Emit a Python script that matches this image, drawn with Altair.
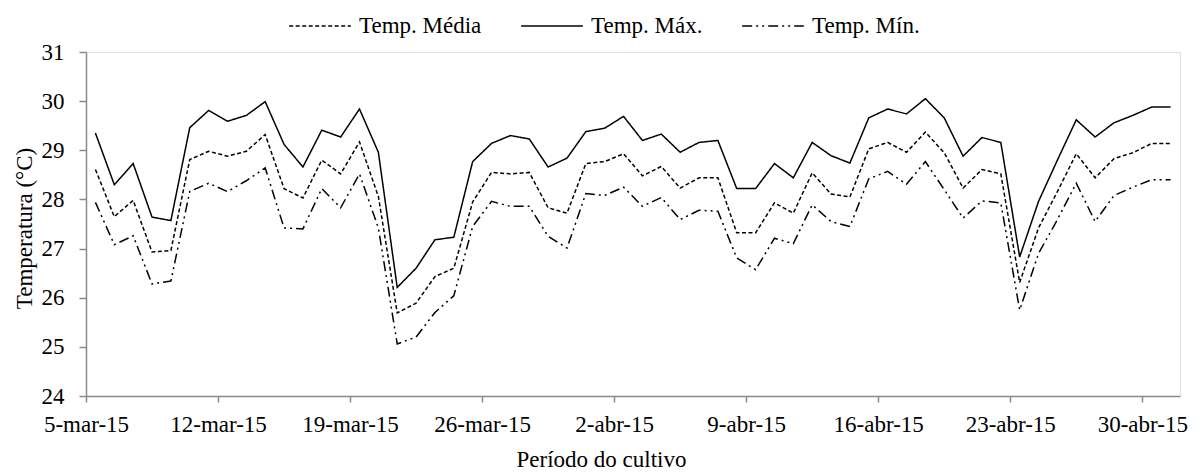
import altair as alt
import pandas as pd

tick_labels = ["5-mar-15", "12-mar-15", "19-mar-15", "26-mar-15", "2-abr-15",
               "9-abr-15", "16-abr-15", "23-abr-15", "30-abr-15"]
tick_days = [0, 7, 14, 21, 28, 35, 42, 49, 56]
series_names = ["Temp. Média", "Temp. Máx.", "Temp. Mín."]

temp_media = [28.61, 27.65, 27.98, 26.93, 26.96, 28.81, 28.98, 28.88, 28.98, 29.32,
              28.22, 28.03, 28.80, 28.52, 29.17, 28.06, 25.69, 25.89, 26.43, 26.60,
              27.95, 28.55, 28.52, 28.55, 27.83, 27.72, 28.73, 28.77, 28.93, 28.48,
              28.67, 28.23, 28.44, 28.44, 27.32, 27.32, 27.93, 27.72, 28.54, 28.11,
              28.05, 29.03, 29.16, 28.96, 29.37, 28.95, 28.23, 28.61, 28.52, 26.31,
              27.42, 28.16, 28.93, 28.44, 28.83, 28.95, 29.14, 29.14]
temp_max = [29.35, 28.30, 28.73, 27.64, 27.57, 29.46, 29.81, 29.59, 29.71, 29.99,
            29.12, 28.66, 29.41, 29.27, 29.84, 28.96, 26.21, 26.60, 27.18, 27.23,
            28.77, 29.14, 29.30, 29.23, 28.66, 28.84, 29.38, 29.45, 29.69, 29.20,
            29.33, 28.96, 29.16, 29.20, 28.22, 28.22, 28.73, 28.44, 29.16, 28.89,
            28.74, 29.66, 29.84, 29.74, 30.05, 29.66, 28.88, 29.26, 29.16, 26.83,
            27.96, 28.80, 29.62, 29.27, 29.56, 29.71, 29.88, 29.88]
temp_min = [27.94, 27.08, 27.26, 26.28, 26.34, 28.16, 28.33, 28.16, 28.38, 28.64,
            27.42, 27.40, 28.22, 27.83, 28.52, 27.42, 25.06, 25.20, 25.70, 26.04,
            27.45, 27.96, 27.86, 27.86, 27.25, 27.01, 28.12, 28.08, 28.25, 27.86,
            28.04, 27.59, 27.78, 27.76, 26.81, 26.57, 27.21, 27.10, 27.89, 27.55,
            27.45, 28.42, 28.57, 28.31, 28.77, 28.20, 27.62, 27.97, 27.93, 25.75,
            26.90, 27.59, 28.33, 27.55, 28.08, 28.25, 28.40, 28.40]

rows = []
for name, vals in zip(series_names, [temp_media, temp_max, temp_min]):
    for i, v in enumerate(vals):
        rows.append({"dia": i + 0.5, "serie": name, "temp": v})
df = pd.DataFrame(rows)

label_expr = "[" + ",".join(f"'{t}'" for t in tick_labels) + "][round(datum.value/7)]"

FONT = "'Liberation Serif', 'Times New Roman', 'DejaVu Serif', serif"
AXIS_GRAY = "#8a8a8a"
FS = 23

chart = alt.Chart(df).mark_line(color="black", strokeWidth=1.5).encode(
    x=alt.X(
        "dia:Q",
        scale=alt.Scale(domain=[0, 58], nice=False, zero=False),
        axis=alt.Axis(
            values=tick_days, labelExpr=label_expr, title="Período do cultivo",
            grid=False, domainColor=AXIS_GRAY, domainWidth=1.5, tickColor=AXIS_GRAY,
            tickWidth=1.5, tickSize=6, labelPadding=11, labelFont=FONT, labelFontSize=FS,
            labelColor="black", titleFont=FONT, titleFontSize=FS, titleFontWeight="normal",
            titleColor="black", titleX=515, titleY=70, titleBaseline="alphabetic",
            titleAlign="center", labelFlush=False, labelOverlap=False,
        ),
    ),
    y=alt.Y(
        "temp:Q",
        scale=alt.Scale(domain=[24, 31], nice=False, zero=False),
        axis=alt.Axis(
            values=list(range(24, 32)), title="Temperatura (°C)", grid=False,
            domainColor=AXIS_GRAY, domainWidth=1.5, tickColor=AXIS_GRAY, tickWidth=1.5,
            tickSize=7, labelPadding=15, labelFont=FONT, labelFontSize=FS,
            labelColor="black", titleFont=FONT, titleFontSize=FS, titleFontWeight="normal",
            titleColor="black", titleX=-55, titleY=176, titleBaseline="alphabetic",
            titleAlign="center", titleAngle=270,
        ),
    ),
    strokeDash=alt.StrokeDash(
        "serie:N",
        scale=alt.Scale(domain=series_names, range=[[4, 2.5], [1, 0], [10, 4, 2, 4, 2, 4]]),
        legend=alt.Legend(
            title=None, orient="none", legendX=202, legendY=-58, direction="horizontal",
            symbolType="stroke", symbolSize=3800, symbolStrokeWidth=1.5,
            symbolStrokeColor="black", labelFont=FONT, labelFontSize=FS,
            labelColor="black", labelOffset=7, columnPadding=36,
        ),
    ),
).properties(
    width=1094, height=344,
    autosize=alt.AutoSizeParams(type="none"),
    padding={"left": 86, "top": 52, "right": 23, "bottom": 76},
).configure_view(stroke=None).configure(background="white")

chart.save("out.html", embed_options={"renderer": "svg", "actions": False})
